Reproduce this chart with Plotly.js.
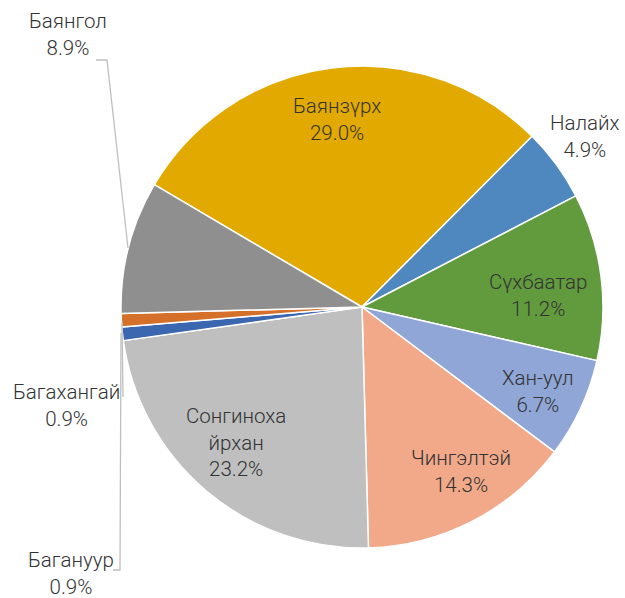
<!DOCTYPE html>
<html>
<head>
<meta charset="utf-8">
<script src="https://cdn.plot.ly/plotly-3.0.1.min.js"></script>
<style>html,body{margin:0;padding:0;background:#fff;}#chart{width:625px;height:598px;}</style>
</head>
<body>
<div id="chart"></div>
<script>
// Data
const districts = ["Баянзүрх", "Налайх", "Сүхбаатар", "Хан-уул", "Чингэлтэй", "Сонгинохайрхан", "Багануур", "Багахангай", "Баянгол"];
const shares = [29.0, 4.9, 11.2, 6.7, 14.3, 23.2, 0.9, 0.9, 8.9];
const labelLines = ["Баянзүрх", "Налайх", "Сүхбаатар", "Хан-уул", "Чингэлтэй", "Сонгиноха<br>йрхан", "Багануур", "Багахангай", "Баянгол"];
const colors = ["#E2AA00", "#4E88BE", "#629A3E", "#8FA6D7", "#F1A98A", "#BFBFBF", "#3B66B0", "#D5702B", "#8F8F8F"];

// Layout (pixel positions of label centres)
const W = 625, H = 598;
const labelPos = [[337, 120], [585, 137], [538, 295], [538, 391], [461, 471], [236, 443], [71, 573], [66, 405], [68, 35]];
const px = x => x / W;
const py = y => 1 - y / H;

const annotations = districts.map((d, i) => ({
  xref: "paper", yref: "paper",
  x: px(labelPos[i][0]), y: py(labelPos[i][1]),
  xanchor: "center", yanchor: "middle",
  text: labelLines[i] + "<br>" + shares[i].toFixed(1) + "%",
  showarrow: false,
  font: {family: "Roboto, 'Noto Sans', sans-serif", size: 20.5, color: "#333333", weight: 300}
}));

const lineStyle = {color: "#BFBFBF", width: 1.3};
const leaderPaths = [
  [[96, 60], [107, 60], [128, 248]],
  [[122, 322], [123, 397]],
  [[121, 333], [120, 570], [113, 570]]
];
const shapes = leaderPaths.map(pts => ({
  type: "path", xref: "paper", yref: "paper",
  path: pts.map((p, k) => (k ? "L" : "M") + px(p[0]) + "," + py(p[1])).join(" "),
  line: lineStyle
}));

const cx = 362, cy = 307, r = 241;
const trace = {
  type: "pie",
  labels: districts,
  values: shares,
  sort: false,
  direction: "clockwise",
  rotation: -59.5,
  marker: {colors: colors, line: {color: "#FFFFFF", width: 1.5}},
  textinfo: "none",
  hoverinfo: "label+percent",
  showlegend: false,
  domain: {x: [px(cx - r), px(cx + r)], y: [py(cy + r), py(cy - r)]}
};

const layout = {
  width: W, height: H,
  margin: {l: 0, r: 0, t: 0, b: 0},
  paper_bgcolor: "#FFFFFF",
  showlegend: false,
  annotations: annotations,
  shapes: shapes
};

Plotly.newPlot("chart", [trace], layout, {displayModeBar: false, staticPlot: true});
</script>
</body>
</html>
